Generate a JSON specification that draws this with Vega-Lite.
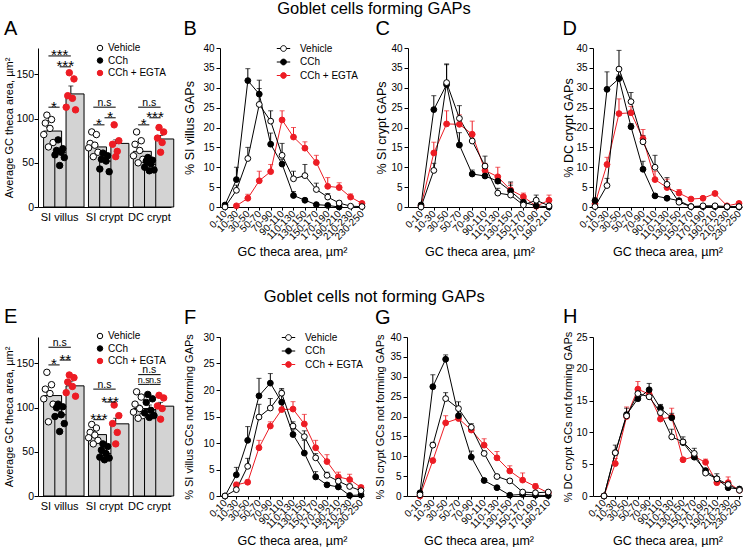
{
"$schema": "https://vega.github.io/schema/vega-lite/v6.json",
"padding": {"left": 3, "top": 0, "right": 0, "bottom": 0},
"background": "white",
"spacing": 30,
"resolve": {"scale": {"fill": "independent", "stroke": "independent", "color": "independent"}, "legend": {"fill": "independent", "stroke": "independent", "color": "independent"}},
"config": {
  "font": "Liberation Sans",
  "view": {"stroke": null},
  "axis": {"grid": false, "domainColor": "#000", "domainWidth": 1, "tickColor": "#000", "tickWidth": 1, "tickSize": 4, "labelColor": "#000", "titleColor": "#000", "labelFont": "Liberation Sans", "titleFont": "Liberation Sans", "labelFontSize": 10, "titleFontSize": 12.5, "titleFontWeight": "normal", "labelPadding": 2},
  "title": {"font": "Liberation Sans", "fontSize": 20, "fontWeight": "normal", "anchor": "start", "frame": "bounds", "color": "#000", "offset": 4},
  "legend": {"labelFont": "Liberation Sans", "labelFontSize": 10, "labelColor": "#000", "padding": 0, "rowPadding": 2.5, "symbolStrokeWidth": 1}
},
"datasets": {
  "A_bars": [
    {"cond": "SI villus|Vehicle", "mean": 86, "hi": 90},
    {"cond": "SI villus|CCh", "mean": 62, "hi": 65},
    {"cond": "SI villus|CCh + EGTA", "mean": 128, "hi": 137},
    {"cond": "SI crypt|Vehicle", "mean": 68, "hi": 72},
    {"cond": "SI crypt|CCh", "mean": 52, "hi": 56},
    {"cond": "SI crypt|CCh + EGTA", "mean": 72, "hi": 76},
    {"cond": "DC crypt|Vehicle", "mean": 63, "hi": 67},
    {"cond": "DC crypt|CCh", "mean": 48, "hi": 51},
    {"cond": "DC crypt|CCh + EGTA", "mean": 77, "hi": 81}
  ],
  "A_dots": [
    {"cond": "SI villus|Vehicle", "trt": "Vehicle", "mouse": 3, "area": 104},
    {"cond": "SI villus|Vehicle", "trt": "Vehicle", "mouse": 6, "area": 99},
    {"cond": "SI villus|Vehicle", "trt": "Vehicle", "mouse": 2, "area": 95},
    {"cond": "SI villus|Vehicle", "trt": "Vehicle", "mouse": 5, "area": 89},
    {"cond": "SI villus|Vehicle", "trt": "Vehicle", "mouse": 1, "area": 82},
    {"cond": "SI villus|Vehicle", "trt": "Vehicle", "mouse": 7, "area": 73},
    {"cond": "SI villus|Vehicle", "trt": "Vehicle", "mouse": 4, "area": 68},
    {"cond": "SI villus|CCh", "trt": "CCh", "mouse": 3, "area": 76},
    {"cond": "SI villus|CCh", "trt": "CCh", "mouse": 6, "area": 66},
    {"cond": "SI villus|CCh", "trt": "CCh", "mouse": 2, "area": 64},
    {"cond": "SI villus|CCh", "trt": "CCh", "mouse": 5, "area": 62},
    {"cond": "SI villus|CCh", "trt": "CCh", "mouse": 1, "area": 59},
    {"cond": "SI villus|CCh", "trt": "CCh", "mouse": 7, "area": 56},
    {"cond": "SI villus|CCh", "trt": "CCh", "mouse": 4, "area": 47},
    {"cond": "SI villus|CCh + EGTA", "trt": "CCh + EGTA", "mouse": 3, "area": 152},
    {"cond": "SI villus|CCh + EGTA", "trt": "CCh + EGTA", "mouse": 6, "area": 145},
    {"cond": "SI villus|CCh + EGTA", "trt": "CCh + EGTA", "mouse": 2, "area": 126},
    {"cond": "SI villus|CCh + EGTA", "trt": "CCh + EGTA", "mouse": 5, "area": 123},
    {"cond": "SI villus|CCh + EGTA", "trt": "CCh + EGTA", "mouse": 1, "area": 113},
    {"cond": "SI villus|CCh + EGTA", "trt": "CCh + EGTA", "mouse": 7, "area": 110},
    {"cond": "SI crypt|Vehicle", "trt": "Vehicle", "mouse": 3, "area": 85},
    {"cond": "SI crypt|Vehicle", "trt": "Vehicle", "mouse": 6, "area": 82},
    {"cond": "SI crypt|Vehicle", "trt": "Vehicle", "mouse": 2, "area": 72},
    {"cond": "SI crypt|Vehicle", "trt": "Vehicle", "mouse": 5, "area": 70},
    {"cond": "SI crypt|Vehicle", "trt": "Vehicle", "mouse": 1, "area": 67},
    {"cond": "SI crypt|Vehicle", "trt": "Vehicle", "mouse": 7, "area": 62},
    {"cond": "SI crypt|Vehicle", "trt": "Vehicle", "mouse": 4, "area": 57},
    {"cond": "SI crypt|CCh", "trt": "CCh", "mouse": 3, "area": 61},
    {"cond": "SI crypt|CCh", "trt": "CCh", "mouse": 6, "area": 58},
    {"cond": "SI crypt|CCh", "trt": "CCh", "mouse": 2, "area": 54},
    {"cond": "SI crypt|CCh", "trt": "CCh", "mouse": 5, "area": 52},
    {"cond": "SI crypt|CCh", "trt": "CCh", "mouse": 1, "area": 43},
    {"cond": "SI crypt|CCh", "trt": "CCh", "mouse": 7, "area": 40},
    {"cond": "SI crypt|CCh + EGTA", "trt": "CCh + EGTA", "mouse": 3, "area": 93},
    {"cond": "SI crypt|CCh + EGTA", "trt": "CCh + EGTA", "mouse": 6, "area": 75},
    {"cond": "SI crypt|CCh + EGTA", "trt": "CCh + EGTA", "mouse": 2, "area": 71},
    {"cond": "SI crypt|CCh + EGTA", "trt": "CCh + EGTA", "mouse": 5, "area": 63},
    {"cond": "SI crypt|CCh + EGTA", "trt": "CCh + EGTA", "mouse": 4, "area": 57},
    {"cond": "DC crypt|Vehicle", "trt": "Vehicle", "mouse": 3, "area": 85},
    {"cond": "DC crypt|Vehicle", "trt": "Vehicle", "mouse": 6, "area": 75},
    {"cond": "DC crypt|Vehicle", "trt": "Vehicle", "mouse": 2, "area": 71},
    {"cond": "DC crypt|Vehicle", "trt": "Vehicle", "mouse": 5, "area": 64},
    {"cond": "DC crypt|Vehicle", "trt": "Vehicle", "mouse": 1, "area": 58},
    {"cond": "DC crypt|Vehicle", "trt": "Vehicle", "mouse": 7, "area": 54},
    {"cond": "DC crypt|Vehicle", "trt": "Vehicle", "mouse": 4, "area": 50},
    {"cond": "DC crypt|CCh", "trt": "CCh", "mouse": 3, "area": 56},
    {"cond": "DC crypt|CCh", "trt": "CCh", "mouse": 6, "area": 53},
    {"cond": "DC crypt|CCh", "trt": "CCh", "mouse": 2, "area": 52},
    {"cond": "DC crypt|CCh", "trt": "CCh", "mouse": 5, "area": 49},
    {"cond": "DC crypt|CCh", "trt": "CCh", "mouse": 1, "area": 45},
    {"cond": "DC crypt|CCh", "trt": "CCh", "mouse": 7, "area": 42},
    {"cond": "DC crypt|CCh", "trt": "CCh", "mouse": 4, "area": 41},
    {"cond": "DC crypt|CCh + EGTA", "trt": "CCh + EGTA", "mouse": 3, "area": 90},
    {"cond": "DC crypt|CCh + EGTA", "trt": "CCh + EGTA", "mouse": 6, "area": 85},
    {"cond": "DC crypt|CCh + EGTA", "trt": "CCh + EGTA", "mouse": 2, "area": 78},
    {"cond": "DC crypt|CCh + EGTA", "trt": "CCh + EGTA", "mouse": 5, "area": 73},
    {"cond": "DC crypt|CCh + EGTA", "trt": "CCh + EGTA", "mouse": 4, "area": 62}
  ],
  "A_sig": [
    {"from": "SI villus|Vehicle", "to": "SI villus|CCh + EGTA", "level": 171, "label": "***"},
    {"from": "SI villus|CCh", "to": "SI villus|CCh + EGTA", "level": 158.7, "label": "***"},
    {"from": "SI villus|Vehicle", "to": "SI villus|CCh", "level": 113, "label": "*"},
    {"from": "SI crypt|Vehicle", "to": "SI crypt|CCh + EGTA", "level": 113, "label": "n.s"},
    {"from": "SI crypt|CCh", "to": "SI crypt|CCh + EGTA", "level": 101, "label": "*"},
    {"from": "SI crypt|Vehicle", "to": "SI crypt|CCh", "level": 93, "label": "*"},
    {"from": "DC crypt|Vehicle", "to": "DC crypt|CCh + EGTA", "level": 113, "label": "n.s"},
    {"from": "DC crypt|CCh", "to": "DC crypt|CCh + EGTA", "level": 101, "label": "***"},
    {"from": "DC crypt|Vehicle", "to": "DC crypt|CCh", "level": 93, "label": "*"}
  ],
  "E_bars": [
    {"cond": "SI villus|Vehicle", "mean": 113.7, "hi": 117.5},
    {"cond": "SI villus|CCh", "mean": 92, "hi": 96},
    {"cond": "SI villus|CCh + EGTA", "mean": 124.7, "hi": 130},
    {"cond": "SI crypt|Vehicle", "mean": 69.5, "hi": 73.5},
    {"cond": "SI crypt|CCh", "mean": 48, "hi": 51.5},
    {"cond": "SI crypt|CCh + EGTA", "mean": 81.7, "hi": 88},
    {"cond": "DC crypt|Vehicle", "mean": 99, "hi": 103},
    {"cond": "DC crypt|CCh", "mean": 98, "hi": 103},
    {"cond": "DC crypt|CCh + EGTA", "mean": 101.7, "hi": 106}
  ],
  "E_dots": [
    {"cond": "SI villus|Vehicle", "trt": "Vehicle", "mouse": 3, "area": 140},
    {"cond": "SI villus|Vehicle", "trt": "Vehicle", "mouse": 6, "area": 126},
    {"cond": "SI villus|Vehicle", "trt": "Vehicle", "mouse": 2, "area": 121},
    {"cond": "SI villus|Vehicle", "trt": "Vehicle", "mouse": 5, "area": 116},
    {"cond": "SI villus|Vehicle", "trt": "Vehicle", "mouse": 1, "area": 110},
    {"cond": "SI villus|Vehicle", "trt": "Vehicle", "mouse": 7, "area": 104},
    {"cond": "SI villus|Vehicle", "trt": "Vehicle", "mouse": 4, "area": 84},
    {"cond": "SI villus|CCh", "trt": "CCh", "mouse": 3, "area": 104},
    {"cond": "SI villus|CCh", "trt": "CCh", "mouse": 6, "area": 101},
    {"cond": "SI villus|CCh", "trt": "CCh", "mouse": 2, "area": 100},
    {"cond": "SI villus|CCh", "trt": "CCh", "mouse": 5, "area": 92},
    {"cond": "SI villus|CCh", "trt": "CCh", "mouse": 1, "area": 90},
    {"cond": "SI villus|CCh", "trt": "CCh", "mouse": 7, "area": 82},
    {"cond": "SI villus|CCh", "trt": "CCh", "mouse": 4, "area": 73},
    {"cond": "SI villus|CCh + EGTA", "trt": "CCh + EGTA", "mouse": 3, "area": 137},
    {"cond": "SI villus|CCh + EGTA", "trt": "CCh + EGTA", "mouse": 6, "area": 134},
    {"cond": "SI villus|CCh + EGTA", "trt": "CCh + EGTA", "mouse": 2, "area": 129},
    {"cond": "SI villus|CCh + EGTA", "trt": "CCh + EGTA", "mouse": 5, "area": 124},
    {"cond": "SI villus|CCh + EGTA", "trt": "CCh + EGTA", "mouse": 1, "area": 117},
    {"cond": "SI villus|CCh + EGTA", "trt": "CCh + EGTA", "mouse": 7, "area": 113},
    {"cond": "SI crypt|Vehicle", "trt": "Vehicle", "mouse": 3, "area": 81},
    {"cond": "SI crypt|Vehicle", "trt": "Vehicle", "mouse": 6, "area": 77},
    {"cond": "SI crypt|Vehicle", "trt": "Vehicle", "mouse": 2, "area": 72},
    {"cond": "SI crypt|Vehicle", "trt": "Vehicle", "mouse": 5, "area": 69},
    {"cond": "SI crypt|Vehicle", "trt": "Vehicle", "mouse": 1, "area": 66},
    {"cond": "SI crypt|Vehicle", "trt": "Vehicle", "mouse": 7, "area": 63},
    {"cond": "SI crypt|Vehicle", "trt": "Vehicle", "mouse": 4, "area": 59},
    {"cond": "SI crypt|CCh", "trt": "CCh", "mouse": 3, "area": 59},
    {"cond": "SI crypt|CCh", "trt": "CCh", "mouse": 6, "area": 56},
    {"cond": "SI crypt|CCh", "trt": "CCh", "mouse": 2, "area": 52},
    {"cond": "SI crypt|CCh", "trt": "CCh", "mouse": 5, "area": 48},
    {"cond": "SI crypt|CCh", "trt": "CCh", "mouse": 1, "area": 44},
    {"cond": "SI crypt|CCh", "trt": "CCh", "mouse": 7, "area": 43},
    {"cond": "SI crypt|CCh", "trt": "CCh", "mouse": 4, "area": 41},
    {"cond": "SI crypt|CCh + EGTA", "trt": "CCh + EGTA", "mouse": 3, "area": 103},
    {"cond": "SI crypt|CCh + EGTA", "trt": "CCh + EGTA", "mouse": 6, "area": 91},
    {"cond": "SI crypt|CCh + EGTA", "trt": "CCh + EGTA", "mouse": 2, "area": 82},
    {"cond": "SI crypt|CCh + EGTA", "trt": "CCh + EGTA", "mouse": 5, "area": 72},
    {"cond": "SI crypt|CCh + EGTA", "trt": "CCh + EGTA", "mouse": 4, "area": 59},
    {"cond": "DC crypt|Vehicle", "trt": "Vehicle", "mouse": 3, "area": 118},
    {"cond": "DC crypt|Vehicle", "trt": "Vehicle", "mouse": 6, "area": 112},
    {"cond": "DC crypt|Vehicle", "trt": "Vehicle", "mouse": 2, "area": 104},
    {"cond": "DC crypt|Vehicle", "trt": "Vehicle", "mouse": 5, "area": 99},
    {"cond": "DC crypt|Vehicle", "trt": "Vehicle", "mouse": 1, "area": 95},
    {"cond": "DC crypt|Vehicle", "trt": "Vehicle", "mouse": 7, "area": 91},
    {"cond": "DC crypt|Vehicle", "trt": "Vehicle", "mouse": 4, "area": 88},
    {"cond": "DC crypt|CCh", "trt": "CCh", "mouse": 3, "area": 115},
    {"cond": "DC crypt|CCh", "trt": "CCh", "mouse": 6, "area": 110},
    {"cond": "DC crypt|CCh", "trt": "CCh", "mouse": 2, "area": 106},
    {"cond": "DC crypt|CCh", "trt": "CCh", "mouse": 5, "area": 97},
    {"cond": "DC crypt|CCh", "trt": "CCh", "mouse": 1, "area": 94},
    {"cond": "DC crypt|CCh", "trt": "CCh", "mouse": 7, "area": 91},
    {"cond": "DC crypt|CCh", "trt": "CCh", "mouse": 4, "area": 89},
    {"cond": "DC crypt|CCh + EGTA", "trt": "CCh + EGTA", "mouse": 3, "area": 114},
    {"cond": "DC crypt|CCh + EGTA", "trt": "CCh + EGTA", "mouse": 6, "area": 111},
    {"cond": "DC crypt|CCh + EGTA", "trt": "CCh + EGTA", "mouse": 2, "area": 102},
    {"cond": "DC crypt|CCh + EGTA", "trt": "CCh + EGTA", "mouse": 5, "area": 99},
    {"cond": "DC crypt|CCh + EGTA", "trt": "CCh + EGTA", "mouse": 4, "area": 87}
  ],
  "E_sig": [
    {"from": "SI villus|Vehicle", "to": "SI villus|CCh + EGTA", "level": 168.4, "label": "n.s"},
    {"from": "SI villus|CCh", "to": "SI villus|CCh + EGTA", "level": 153.9, "label": "**"},
    {"from": "SI villus|Vehicle", "to": "SI villus|CCh", "level": 148.4, "label": "*"},
    {"from": "SI crypt|Vehicle", "to": "SI crypt|CCh + EGTA", "level": 121, "label": "n.s"},
    {"from": "SI crypt|CCh", "to": "SI crypt|CCh + EGTA", "level": 106.4, "label": "***"},
    {"from": "SI crypt|Vehicle", "to": "SI crypt|CCh", "level": 86.4, "label": "***"},
    {"from": "DC crypt|Vehicle", "to": "DC crypt|CCh + EGTA", "level": 137.4, "label": "n.s"},
    {"from": "DC crypt|Vehicle", "to": "DC crypt|CCh", "level": 126.4, "label": "n.s"},
    {"from": "DC crypt|CCh", "to": "DC crypt|CCh + EGTA", "level": 126.4, "label": "n.s"}
  ],
  "B": [
    {"bin": "10-30", "group": "CCh + EGTA", "pct": 0.3, "upper": 0.5},
    {"bin": "30-50", "group": "CCh + EGTA", "pct": 2.2, "upper": 3.2},
    {"bin": "50-70", "group": "CCh + EGTA", "pct": 6.6, "upper": 9.0},
    {"bin": "70-90", "group": "CCh + EGTA", "pct": 8.9, "upper": 10.7},
    {"bin": "90-110", "group": "CCh + EGTA", "pct": 21.9, "upper": 24.2},
    {"bin": "110-130", "group": "CCh + EGTA", "pct": 17.6, "upper": 20.0},
    {"bin": "130-150", "group": "CCh + EGTA", "pct": 14.8, "upper": 16.4},
    {"bin": "150-170", "group": "CCh + EGTA", "pct": 11.2, "upper": 13.0},
    {"bin": "170-190", "group": "CCh + EGTA", "pct": 5.2, "upper": 7.4},
    {"bin": "190-210", "group": "CCh + EGTA", "pct": 4.9, "upper": 6.1},
    {"bin": "210-230", "group": "CCh + EGTA", "pct": 2.5, "upper": 3.3},
    {"bin": "230-250", "group": "CCh + EGTA", "pct": 0.9, "upper": 1.2},
    {"bin": "0-10", "group": "CCh", "pct": 0.5, "upper": 0.8},
    {"bin": "10-30", "group": "CCh", "pct": 6.9, "upper": 10.0},
    {"bin": "30-50", "group": "CCh", "pct": 31.8, "upper": 34.8},
    {"bin": "50-70", "group": "CCh", "pct": 28.4, "upper": 31.9},
    {"bin": "70-90", "group": "CCh", "pct": 15.8, "upper": 18.6},
    {"bin": "90-110", "group": "CCh", "pct": 10.8, "upper": 12.0},
    {"bin": "110-130", "group": "CCh", "pct": 2.9, "upper": 3.9},
    {"bin": "130-150", "group": "CCh", "pct": 1.7, "upper": 2.2},
    {"bin": "150-170", "group": "CCh", "pct": 0.6, "upper": 0.8},
    {"bin": "170-190", "group": "CCh", "pct": 0.4, "upper": 0.5},
    {"bin": "190-210", "group": "CCh", "pct": 0.0, "upper": 0.1},
    {"bin": "0-10", "group": "Vehicle", "pct": 0.0, "upper": 0.3},
    {"bin": "10-30", "group": "Vehicle", "pct": 4.2, "upper": 5.5},
    {"bin": "30-50", "group": "Vehicle", "pct": 12.2, "upper": 15.0},
    {"bin": "50-70", "group": "Vehicle", "pct": 25.8, "upper": 29.8},
    {"bin": "70-90", "group": "Vehicle", "pct": 21.6, "upper": 24.2},
    {"bin": "90-110", "group": "Vehicle", "pct": 13.0, "upper": 16.0},
    {"bin": "110-130", "group": "Vehicle", "pct": 7.1, "upper": 9.0},
    {"bin": "130-150", "group": "Vehicle", "pct": 7.9, "upper": 10.7},
    {"bin": "150-170", "group": "Vehicle", "pct": 4.4, "upper": 6.0},
    {"bin": "170-190", "group": "Vehicle", "pct": 2.5, "upper": 3.4},
    {"bin": "190-210", "group": "Vehicle", "pct": 1.0, "upper": 1.5},
    {"bin": "210-230", "group": "Vehicle", "pct": 0.2, "upper": 0.4},
    {"bin": "230-250", "group": "Vehicle", "pct": 0.1, "upper": 0.2}
  ],
  "C": [
    {"bin": "0-10", "group": "CCh + EGTA", "pct": 0.3, "upper": 0.5},
    {"bin": "10-30", "group": "CCh + EGTA", "pct": 13.6, "upper": 16.3},
    {"bin": "30-50", "group": "CCh + EGTA", "pct": 20.9, "upper": 24.2},
    {"bin": "50-70", "group": "CCh + EGTA", "pct": 20.8, "upper": 23.2},
    {"bin": "70-90", "group": "CCh + EGTA", "pct": 18.3, "upper": 21.6},
    {"bin": "90-110", "group": "CCh + EGTA", "pct": 9.2, "upper": 11.0},
    {"bin": "110-130", "group": "CCh + EGTA", "pct": 7.6, "upper": 10.0},
    {"bin": "130-150", "group": "CCh + EGTA", "pct": 4.3, "upper": 6.0},
    {"bin": "150-170", "group": "CCh + EGTA", "pct": 2.6, "upper": 3.5},
    {"bin": "170-190", "group": "CCh + EGTA", "pct": 0.2, "upper": 0.5},
    {"bin": "190-210", "group": "CCh + EGTA", "pct": 1.7, "upper": 3.0},
    {"bin": "0-10", "group": "CCh", "pct": 0.5, "upper": 0.8},
    {"bin": "10-30", "group": "CCh", "pct": 24.5, "upper": 28.0},
    {"bin": "30-50", "group": "CCh", "pct": 30.8, "upper": 35.8},
    {"bin": "50-70", "group": "CCh", "pct": 15.6, "upper": 18.7},
    {"bin": "70-90", "group": "CCh", "pct": 8.3, "upper": 9.3},
    {"bin": "90-110", "group": "CCh", "pct": 7.8, "upper": 8.3},
    {"bin": "110-130", "group": "CCh", "pct": 6.5, "upper": 7.5},
    {"bin": "130-150", "group": "CCh", "pct": 4.0, "upper": 5.5},
    {"bin": "150-170", "group": "CCh", "pct": 1.2, "upper": 1.8},
    {"bin": "170-190", "group": "CCh", "pct": 0.3, "upper": 0.5},
    {"bin": "190-210", "group": "CCh", "pct": 0.0, "upper": 0.2},
    {"bin": "0-10", "group": "Vehicle", "pct": 0.0, "upper": 0.2},
    {"bin": "10-30", "group": "Vehicle", "pct": 9.2, "upper": 11.0},
    {"bin": "30-50", "group": "Vehicle", "pct": 31.3, "upper": 36.0},
    {"bin": "50-70", "group": "Vehicle", "pct": 22.3, "upper": 25.5},
    {"bin": "70-90", "group": "Vehicle", "pct": 16.6, "upper": 18.0},
    {"bin": "90-110", "group": "Vehicle", "pct": 10.3, "upper": 12.8},
    {"bin": "110-130", "group": "Vehicle", "pct": 3.5, "upper": 4.7},
    {"bin": "130-150", "group": "Vehicle", "pct": 3.0, "upper": 6.3},
    {"bin": "150-170", "group": "Vehicle", "pct": 0.5, "upper": 0.9},
    {"bin": "170-190", "group": "Vehicle", "pct": 1.7, "upper": 3.0},
    {"bin": "190-210", "group": "Vehicle", "pct": 0.3, "upper": 0.5}
  ],
  "D": [
    {"bin": "0-10", "group": "CCh + EGTA", "pct": 0.8, "upper": 1.2},
    {"bin": "10-30", "group": "CCh + EGTA", "pct": 10.7, "upper": 12.5},
    {"bin": "30-50", "group": "CCh + EGTA", "pct": 23.5, "upper": 27.2},
    {"bin": "50-70", "group": "CCh + EGTA", "pct": 23.7, "upper": 25.3},
    {"bin": "70-90", "group": "CCh + EGTA", "pct": 17.2, "upper": 19.5},
    {"bin": "90-110", "group": "CCh + EGTA", "pct": 6.9, "upper": 9.0},
    {"bin": "110-130", "group": "CCh + EGTA", "pct": 4.9, "upper": 7.0},
    {"bin": "130-150", "group": "CCh + EGTA", "pct": 3.5, "upper": 4.4},
    {"bin": "150-170", "group": "CCh + EGTA", "pct": 2.0, "upper": 2.4},
    {"bin": "170-190", "group": "CCh + EGTA", "pct": 2.2, "upper": 2.6},
    {"bin": "190-210", "group": "CCh + EGTA", "pct": 3.4, "upper": 3.8},
    {"bin": "210-230", "group": "CCh + EGTA", "pct": 0.3, "upper": 0.5},
    {"bin": "230-250", "group": "CCh + EGTA", "pct": 0.9, "upper": 1.2},
    {"bin": "0-10", "group": "CCh", "pct": 1.6, "upper": 2.3},
    {"bin": "10-30", "group": "CCh", "pct": 29.6, "upper": 34.0},
    {"bin": "30-50", "group": "CCh", "pct": 32.3, "upper": 33.2},
    {"bin": "50-70", "group": "CCh", "pct": 20.2, "upper": 21.0},
    {"bin": "70-90", "group": "CCh", "pct": 9.5, "upper": 11.5},
    {"bin": "90-110", "group": "CCh", "pct": 2.8, "upper": 3.3},
    {"bin": "110-130", "group": "CCh", "pct": 2.2, "upper": 2.6},
    {"bin": "130-150", "group": "CCh", "pct": 1.6, "upper": 2.0},
    {"bin": "150-170", "group": "CCh", "pct": 0.1, "upper": 0.2},
    {"bin": "170-190", "group": "CCh", "pct": 0.1, "upper": 0.2},
    {"bin": "190-210", "group": "CCh", "pct": 0.1, "upper": 0.2},
    {"bin": "210-230", "group": "CCh", "pct": 0.0, "upper": 0.1},
    {"bin": "230-250", "group": "CCh", "pct": 0.0, "upper": 0.1},
    {"bin": "0-10", "group": "Vehicle", "pct": 0.1, "upper": 0.3},
    {"bin": "10-30", "group": "Vehicle", "pct": 5.4, "upper": 7.2},
    {"bin": "30-50", "group": "Vehicle", "pct": 34.7, "upper": 39.4},
    {"bin": "50-70", "group": "Vehicle", "pct": 26.5, "upper": 28.8},
    {"bin": "70-90", "group": "Vehicle", "pct": 16.4, "upper": 18.0},
    {"bin": "90-110", "group": "Vehicle", "pct": 10.0, "upper": 13.0},
    {"bin": "110-130", "group": "Vehicle", "pct": 5.7, "upper": 7.4},
    {"bin": "130-150", "group": "Vehicle", "pct": 1.2, "upper": 1.6},
    {"bin": "150-170", "group": "Vehicle", "pct": 0.1, "upper": 0.2},
    {"bin": "170-190", "group": "Vehicle", "pct": 0.3, "upper": 0.4},
    {"bin": "190-210", "group": "Vehicle", "pct": 0.3, "upper": 0.4},
    {"bin": "210-230", "group": "Vehicle", "pct": 0.1, "upper": 0.2},
    {"bin": "230-250", "group": "Vehicle", "pct": 0.1, "upper": 0.2}
  ],
  "F": [
    {"bin": "10-30", "group": "CCh + EGTA", "pct": 2.1, "upper": 2.6},
    {"bin": "30-50", "group": "CCh + EGTA", "pct": 2.6, "upper": 3.0},
    {"bin": "50-70", "group": "CCh + EGTA", "pct": 9.1, "upper": 10.5},
    {"bin": "70-90", "group": "CCh + EGTA", "pct": 13.2, "upper": 14.0},
    {"bin": "90-110", "group": "CCh + EGTA", "pct": 16.3, "upper": 17.8},
    {"bin": "110-130", "group": "CCh + EGTA", "pct": 16.4, "upper": 17.8},
    {"bin": "130-150", "group": "CCh + EGTA", "pct": 13.6, "upper": 15.4},
    {"bin": "150-170", "group": "CCh + EGTA", "pct": 9.1, "upper": 10.5},
    {"bin": "170-190", "group": "CCh + EGTA", "pct": 6.5, "upper": 7.8},
    {"bin": "190-210", "group": "CCh + EGTA", "pct": 3.6, "upper": 4.5},
    {"bin": "210-230", "group": "CCh + EGTA", "pct": 3.1, "upper": 4.1},
    {"bin": "230-250", "group": "CCh + EGTA", "pct": 1.6, "upper": 2.0},
    {"bin": "0-10", "group": "CCh", "pct": 0.0, "upper": 0.1},
    {"bin": "10-30", "group": "CCh", "pct": 4.0, "upper": 5.4},
    {"bin": "30-50", "group": "CCh", "pct": 10.5, "upper": 13.1},
    {"bin": "50-70", "group": "CCh", "pct": 18.9, "upper": 22.2},
    {"bin": "70-90", "group": "CCh", "pct": 21.3, "upper": 23.1},
    {"bin": "90-110", "group": "CCh", "pct": 17.7, "upper": 20.0},
    {"bin": "110-130", "group": "CCh", "pct": 11.6, "upper": 12.5},
    {"bin": "130-150", "group": "CCh", "pct": 8.1, "upper": 10.5},
    {"bin": "150-170", "group": "CCh", "pct": 3.6, "upper": 4.6},
    {"bin": "170-190", "group": "CCh", "pct": 2.1, "upper": 2.5},
    {"bin": "190-210", "group": "CCh", "pct": 1.7, "upper": 2.0},
    {"bin": "210-230", "group": "CCh", "pct": 0.1, "upper": 0.2},
    {"bin": "230-250", "group": "CCh", "pct": 0.2, "upper": 0.3},
    {"bin": "0-10", "group": "Vehicle", "pct": 0.0, "upper": 0.1},
    {"bin": "10-30", "group": "Vehicle", "pct": 1.2, "upper": 1.6},
    {"bin": "30-50", "group": "Vehicle", "pct": 5.6, "upper": 7.1},
    {"bin": "50-70", "group": "Vehicle", "pct": 14.9, "upper": 17.3},
    {"bin": "70-90", "group": "Vehicle", "pct": 16.6, "upper": 18.4},
    {"bin": "90-110", "group": "Vehicle", "pct": 19.4, "upper": 20.3},
    {"bin": "110-130", "group": "Vehicle", "pct": 13.2, "upper": 14.0},
    {"bin": "130-150", "group": "Vehicle", "pct": 11.2, "upper": 12.3},
    {"bin": "150-170", "group": "Vehicle", "pct": 7.2, "upper": 8.0},
    {"bin": "170-190", "group": "Vehicle", "pct": 3.9, "upper": 4.5},
    {"bin": "190-210", "group": "Vehicle", "pct": 2.8, "upper": 3.4},
    {"bin": "210-230", "group": "Vehicle", "pct": 1.8, "upper": 2.2},
    {"bin": "230-250", "group": "Vehicle", "pct": 1.0, "upper": 1.3}
  ],
  "G": [
    {"bin": "0-10", "group": "CCh + EGTA", "pct": 0.0, "upper": 0.1},
    {"bin": "10-30", "group": "CCh + EGTA", "pct": 8.9, "upper": 9.5},
    {"bin": "30-50", "group": "CCh + EGTA", "pct": 18.4, "upper": 20.2},
    {"bin": "50-70", "group": "CCh + EGTA", "pct": 19.5, "upper": 20.0},
    {"bin": "70-90", "group": "CCh + EGTA", "pct": 16.6, "upper": 17.6},
    {"bin": "90-110", "group": "CCh + EGTA", "pct": 12.8, "upper": 14.4},
    {"bin": "110-130", "group": "CCh + EGTA", "pct": 9.6, "upper": 11.2},
    {"bin": "130-150", "group": "CCh + EGTA", "pct": 6.3, "upper": 7.6},
    {"bin": "150-170", "group": "CCh + EGTA", "pct": 4.0, "upper": 5.8},
    {"bin": "170-190", "group": "CCh + EGTA", "pct": 2.4, "upper": 3.1},
    {"bin": "190-210", "group": "CCh + EGTA", "pct": 0.8, "upper": 1.3},
    {"bin": "0-10", "group": "CCh", "pct": 0.8, "upper": 1.0},
    {"bin": "10-30", "group": "CCh", "pct": 27.5, "upper": 30.5},
    {"bin": "30-50", "group": "CCh", "pct": 34.4, "upper": 35.5},
    {"bin": "50-70", "group": "CCh", "pct": 20.2, "upper": 22.0},
    {"bin": "70-90", "group": "CCh", "pct": 9.8, "upper": 11.3},
    {"bin": "90-110", "group": "CCh", "pct": 3.9, "upper": 4.4},
    {"bin": "110-130", "group": "CCh", "pct": 2.1, "upper": 2.4},
    {"bin": "130-150", "group": "CCh", "pct": 0.2, "upper": 0.3},
    {"bin": "150-170", "group": "CCh", "pct": 0.4, "upper": 0.5},
    {"bin": "170-190", "group": "CCh", "pct": 0.2, "upper": 0.3},
    {"bin": "190-210", "group": "CCh", "pct": 0.1, "upper": 0.2},
    {"bin": "0-10", "group": "Vehicle", "pct": 0.3, "upper": 0.5},
    {"bin": "10-30", "group": "Vehicle", "pct": 12.8, "upper": 13.5},
    {"bin": "30-50", "group": "Vehicle", "pct": 24.5, "upper": 26.0},
    {"bin": "50-70", "group": "Vehicle", "pct": 22.0, "upper": 23.7},
    {"bin": "70-90", "group": "Vehicle", "pct": 17.3, "upper": 18.2},
    {"bin": "90-110", "group": "Vehicle", "pct": 10.7, "upper": 11.3},
    {"bin": "110-130", "group": "Vehicle", "pct": 4.9, "upper": 5.3},
    {"bin": "130-150", "group": "Vehicle", "pct": 3.8, "upper": 4.2},
    {"bin": "150-170", "group": "Vehicle", "pct": 1.0, "upper": 1.3},
    {"bin": "170-190", "group": "Vehicle", "pct": 0.8, "upper": 1.0},
    {"bin": "190-210", "group": "Vehicle", "pct": 1.0, "upper": 1.2}
  ],
  "H": [
    {"bin": "0-10", "group": "CCh + EGTA", "pct": 0.0, "upper": 0.1},
    {"bin": "10-30", "group": "CCh + EGTA", "pct": 5.1, "upper": 5.9},
    {"bin": "30-50", "group": "CCh + EGTA", "pct": 12.5, "upper": 14.0},
    {"bin": "50-70", "group": "CCh + EGTA", "pct": 16.8, "upper": 18.0},
    {"bin": "70-90", "group": "CCh + EGTA", "pct": 16.0, "upper": 16.5},
    {"bin": "90-110", "group": "CCh + EGTA", "pct": 12.1, "upper": 12.6},
    {"bin": "110-130", "group": "CCh + EGTA", "pct": 12.4, "upper": 13.8},
    {"bin": "130-150", "group": "CCh + EGTA", "pct": 5.7, "upper": 6.0},
    {"bin": "150-170", "group": "CCh + EGTA", "pct": 6.2, "upper": 6.6},
    {"bin": "170-190", "group": "CCh + EGTA", "pct": 5.3, "upper": 5.8},
    {"bin": "190-210", "group": "CCh + EGTA", "pct": 2.1, "upper": 2.4},
    {"bin": "210-230", "group": "CCh + EGTA", "pct": 2.1, "upper": 3.0},
    {"bin": "230-250", "group": "CCh + EGTA", "pct": 0.9, "upper": 1.1},
    {"bin": "0-10", "group": "CCh", "pct": 0.0, "upper": 0.1},
    {"bin": "10-30", "group": "CCh", "pct": 6.8, "upper": 7.2},
    {"bin": "30-50", "group": "CCh", "pct": 12.8, "upper": 13.8},
    {"bin": "50-70", "group": "CCh", "pct": 15.3, "upper": 15.8},
    {"bin": "70-90", "group": "CCh", "pct": 16.7, "upper": 17.7},
    {"bin": "90-110", "group": "CCh", "pct": 13.8, "upper": 14.4},
    {"bin": "110-130", "group": "CCh", "pct": 12.3, "upper": 13.0},
    {"bin": "130-150", "group": "CCh", "pct": 8.4, "upper": 8.9},
    {"bin": "150-170", "group": "CCh", "pct": 6.1, "upper": 6.5},
    {"bin": "170-190", "group": "CCh", "pct": 4.0, "upper": 4.3},
    {"bin": "190-210", "group": "CCh", "pct": 2.7, "upper": 3.0},
    {"bin": "210-230", "group": "CCh", "pct": 1.3, "upper": 1.6},
    {"bin": "230-250", "group": "CCh", "pct": 1.1, "upper": 1.3},
    {"bin": "0-10", "group": "Vehicle", "pct": 0.0, "upper": 0.1},
    {"bin": "10-30", "group": "Vehicle", "pct": 6.8, "upper": 8.0},
    {"bin": "30-50", "group": "Vehicle", "pct": 12.6, "upper": 13.0},
    {"bin": "50-70", "group": "Vehicle", "pct": 16.1, "upper": 16.5},
    {"bin": "70-90", "group": "Vehicle", "pct": 15.6, "upper": 16.0},
    {"bin": "90-110", "group": "Vehicle", "pct": 13.1, "upper": 14.3},
    {"bin": "110-130", "group": "Vehicle", "pct": 9.3, "upper": 10.5},
    {"bin": "130-150", "group": "Vehicle", "pct": 8.5, "upper": 9.3},
    {"bin": "150-170", "group": "Vehicle", "pct": 6.7, "upper": 7.5},
    {"bin": "170-190", "group": "Vehicle", "pct": 3.6, "upper": 4.0},
    {"bin": "190-210", "group": "Vehicle", "pct": 2.7, "upper": 3.5},
    {"bin": "210-230", "group": "Vehicle", "pct": 1.8, "upper": 2.2},
    {"bin": "230-250", "group": "Vehicle", "pct": 0.9, "upper": 1.1}
  ]
},
"vconcat": [
  {
    "title": {"text": "Goblet cells forming GAPs", "fontSize": 16.5, "anchor": "middle", "frame": "bounds", "offset": 2},
    "spacing": 8,
    "resolve": {"scale": {"fill": "independent", "stroke": "independent", "color": "independent"}, "legend": {"fill": "independent", "stroke": "independent", "color": "independent"}},
    "hconcat": [
      {
        "width": 133, "height": 159,
        "title": {"text": "A"},
        "layer": [
          {"data": {"name": "A_bars"}, "mark": {"type": "bar", "fill": "#d3d3d3", "stroke": "#000", "strokeWidth": 1},
           "encoding": {
             "x": {"field": "cond", "type": "nominal", "scale": {"domain": ["SI villus|Vehicle", "SI villus|CCh", "SI villus|CCh + EGTA", "gap1", "SI crypt|Vehicle", "SI crypt|CCh", "SI crypt|CCh + EGTA", "gap2", "DC crypt|Vehicle", "DC crypt|CCh", "DC crypt|CCh + EGTA"], "paddingInner": 0.14, "paddingOuter": 0.5},
                   "axis": {"labelExpr": "datum.value == 'SI villus|CCh' ? 'SI villus' : datum.value == 'SI crypt|CCh' ? 'SI crypt' : datum.value == 'DC crypt|CCh' ? 'DC crypt' : ''", "ticks": false, "labelFontSize": 11, "labelAngle": 0, "labelPadding": 4, "labelOverlap": false, "labelBound": false, "title": null}},
             "y": {"field": "mean", "type": "quantitative", "scale": {"domain": [0, 175]}, "axis": {"values": [0, 25, 50, 75, 100, 125, 150, 175], "title": "Average GC theca area, µm²", "titleFontSize": 11, "titlePadding": 1, "labelPadding": 0.5, "labelFontSize": 10.5}}
           }},
          {"data": {"name": "A_bars"}, "mark": {"type": "rule", "color": "#000", "strokeWidth": 1},
           "encoding": {"x": {"field": "cond", "type": "nominal"}, "y": {"field": "mean", "type": "quantitative"}, "y2": {"field": "hi"}}},
          {"data": {"name": "A_bars"}, "mark": {"type": "tick", "color": "#000", "thickness": 1, "size": 5},
           "encoding": {"x": {"field": "cond", "type": "nominal"}, "y": {"field": "hi", "type": "quantitative"}}},
          {"data": {"name": "A_dots"}, "mark": {"type": "point", "filled": true, "size": 42, "strokeWidth": 1, "opacity": 1},
           "encoding": {
             "x": {"field": "cond", "type": "nominal"},
             "xOffset": {"field": "mouse", "type": "nominal", "scale": {"paddingOuter": 0.1}},
             "y": {"field": "area", "type": "quantitative"},
             "fill": {"field": "trt", "type": "nominal", "scale": {"domain": ["Vehicle", "CCh", "CCh + EGTA"], "range": ["#ffffff", "#000000", "#ed1c24"]}, "legend": {"title": null, "orient": "none", "legendX": 57, "legendY": -5, "symbolType": "circle", "symbolSize": 30, "labelOffset": 3}},
             "stroke": {"field": "trt", "type": "nominal", "scale": {"domain": ["Vehicle", "CCh", "CCh + EGTA"], "range": ["#000000", "#000000", "#ed1c24"]}, "legend": {"title": null, "orient": "none", "legendX": 57, "legendY": -5, "symbolType": "circle", "symbolSize": 30, "labelOffset": 3}}
           }},
          {"data": {"name": "A_sig"}, "mark": {"type": "rule", "color": "#000", "strokeWidth": 1},
           "encoding": {"x": {"field": "from", "type": "nominal"}, "x2": {"field": "to"}, "y": {"field": "level", "type": "quantitative"}}},
          {"data": {"name": "A_sig"}, "transform": [{"filter": "indexof(datum.from,'Vehicle')>=0 && indexof(datum.to,'EGTA')>=0 && datum.label != 'n.s'"}],
           "mark": {"type": "text", "fontSize": 15, "dx": 11.2, "dy": 4.5, "baseline": "alphabetic", "align": "center"},
           "encoding": {"x": {"field": "from", "type": "nominal"}, "y": {"field": "level", "type": "quantitative"}, "text": {"field": "label"}}},
          {"data": {"name": "A_sig"}, "transform": [{"filter": "indexof(datum.from,'Vehicle')>=0 && indexof(datum.to,'EGTA')>=0 && datum.label == 'n.s'"}],
           "mark": {"type": "text", "fontSize": 10.5, "dx": 11.2, "dy": -1.5, "baseline": "alphabetic", "align": "center"},
           "encoding": {"x": {"field": "from", "type": "nominal"}, "y": {"field": "level", "type": "quantitative"}, "text": {"field": "label"}}},
          {"data": {"name": "A_sig"}, "transform": [{"filter": "!(indexof(datum.from,'Vehicle')>=0 && indexof(datum.to,'EGTA')>=0) && datum.label != 'n.s'"}],
           "mark": {"type": "text", "fontSize": 15, "dx": 5.6, "dy": 4.5, "baseline": "alphabetic", "align": "center"},
           "encoding": {"x": {"field": "from", "type": "nominal"}, "y": {"field": "level", "type": "quantitative"}, "text": {"field": "label"}}},
          {"data": {"name": "A_sig"}, "transform": [{"filter": "!(indexof(datum.from,'Vehicle')>=0 && indexof(datum.to,'EGTA')>=0) && datum.label == 'n.s'"}],
           "mark": {"type": "text", "fontSize": 9, "dx": 5.6, "dy": -1.5, "baseline": "alphabetic", "align": "center"},
           "encoding": {"x": {"field": "from", "type": "nominal"}, "y": {"field": "level", "type": "quantitative"}, "text": {"field": "label"}}}
        ]
      },
      {
        "width": 144, "height": 159,
        "title": {"text": "B"},
        "data": {"name": "B"},
        "encoding": {
          "x": {"field": "bin", "type": "ordinal", "sort": ["0-10", "10-30", "30-50", "50-70", "70-90", "90-110", "110-130", "130-150", "150-170", "170-190", "190-210", "210-230", "230-250"], "scale": {"type": "point", "padding": 0.3065, "align": 0.714}, "axis": {"labelAngle": -45, "labelAlign": "right", "labelBaseline": "middle", "tickSize": 3, "labelPadding": 2, "title": "GC theca area, µm²", "titlePadding": 4}},
          "y": {"field": "pct", "type": "quantitative", "scale": {"domain": [0, 40]}, "axis": {"values": [0, 5, 10, 15, 20, 25, 30, 35, 40], "title": "% SI villus GAPs", "titlePadding": 6.4}}
        },
        "layer": [
          {"mark": {"type": "rule", "strokeWidth": 1}, "encoding": {"y2": {"field": "upper"}, "color": {"field": "group", "type": "nominal", "scale": {"domain": ["CCh", "Vehicle", "CCh + EGTA"], "range": ["#000000", "#000000", "#ed1c24"]}, "legend": null}}},
          {"mark": {"type": "tick", "thickness": 1, "size": 5}, "encoding": {"y": {"field": "upper", "type": "quantitative"}, "color": {"field": "group", "type": "nominal", "legend": null}}},
          {"mark": {"type": "line", "strokeWidth": 1}, "encoding": {"color": {"field": "group", "type": "nominal", "legend": null}}},
          {"mark": {"type": "point", "filled": true, "size": 34, "strokeWidth": 1, "opacity": 1}, "encoding": {
            "fill": {"field": "group", "type": "nominal", "scale": {"domain": ["Vehicle", "CCh", "CCh + EGTA"], "range": ["#ffffff", "#000000", "#ed1c24"]}, "legend": {"title": null, "orient": "none", "legendX": 58, "legendY": -5, "symbolType": "M-1.4,0H-0.6M0.6,0H1.4M-0.6,0A0.6,0.6,0,1,1,0.6,0A0.6,0.6,0,1,1,-0.6,0", "symbolSize": 92, "labelOffset": 11}},
            "stroke": {"field": "group", "type": "nominal", "scale": {"domain": ["Vehicle", "CCh", "CCh + EGTA"], "range": ["#000000", "#000000", "#ed1c24"]}, "legend": {"title": null, "orient": "none", "legendX": 58, "legendY": -5, "symbolType": "M-1.4,0H-0.6M0.6,0H1.4M-0.6,0A0.6,0.6,0,1,1,0.6,0A0.6,0.6,0,1,1,-0.6,0", "symbolSize": 92, "labelOffset": 11}}
          }}
        ]
      },
      {
        "width": 143, "height": 159,
        "title": {"text": "C"},
        "data": {"name": "C"},
        "encoding": {
          "x": {"field": "bin", "type": "ordinal", "sort": ["0-10", "10-30", "30-50", "50-70", "70-90", "90-110", "110-130", "130-150", "150-170", "170-190", "190-210"], "scale": {"type": "point", "padding": 0.586, "align": 0.867}, "axis": {"labelAngle": -45, "labelAlign": "right", "labelBaseline": "middle", "tickSize": 3, "labelPadding": 2, "title": "GC theca area, µm²", "titlePadding": 4}},
          "y": {"field": "pct", "type": "quantitative", "scale": {"domain": [0, 40]}, "axis": {"values": [0, 5, 10, 15, 20, 25, 30, 35, 40], "title": "% SI crypt GAPs", "titlePadding": 2.4}}
        },
        "layer": [
          {"mark": {"type": "rule", "strokeWidth": 1}, "encoding": {"y2": {"field": "upper"}, "color": {"field": "group", "type": "nominal", "scale": {"domain": ["CCh", "Vehicle", "CCh + EGTA"], "range": ["#000000", "#000000", "#ed1c24"]}, "legend": null}}},
          {"mark": {"type": "tick", "thickness": 1, "size": 5}, "encoding": {"y": {"field": "upper", "type": "quantitative"}, "color": {"field": "group", "type": "nominal", "legend": null}}},
          {"mark": {"type": "line", "strokeWidth": 1}, "encoding": {"color": {"field": "group", "type": "nominal", "legend": null}}},
          {"mark": {"type": "point", "filled": true, "size": 34, "strokeWidth": 1, "opacity": 1}, "encoding": {
            "fill": {"field": "group", "type": "nominal", "scale": {"domain": ["Vehicle", "CCh", "CCh + EGTA"], "range": ["#ffffff", "#000000", "#ed1c24"]}, "legend": null},
            "stroke": {"field": "group", "type": "nominal", "scale": {"domain": ["Vehicle", "CCh", "CCh + EGTA"], "range": ["#000000", "#000000", "#ed1c24"]}, "legend": null}
          }}
        ]
      },
      {
        "width": 149, "height": 159,
        "title": {"text": "D"},
        "data": {"name": "D"},
        "encoding": {
          "x": {"field": "bin", "type": "ordinal", "sort": ["0-10", "10-30", "30-50", "50-70", "70-90", "90-110", "110-130", "130-150", "150-170", "170-190", "190-210", "210-230", "230-250"], "scale": {"type": "point", "padding": 0.208, "align": 0.4}, "axis": {"labelAngle": -45, "labelAlign": "right", "labelBaseline": "middle", "tickSize": 3, "labelPadding": 2, "title": "GC theca area, µm²", "titlePadding": 4}},
          "y": {"field": "pct", "type": "quantitative", "scale": {"domain": [0, 40]}, "axis": {"values": [0, 5, 10, 15, 20, 25, 30, 35, 40], "title": "% DC crypt GAPs", "titlePadding": 0.4}}
        },
        "layer": [
          {"mark": {"type": "rule", "strokeWidth": 1}, "encoding": {"y2": {"field": "upper"}, "color": {"field": "group", "type": "nominal", "scale": {"domain": ["CCh", "Vehicle", "CCh + EGTA"], "range": ["#000000", "#000000", "#ed1c24"]}, "legend": null}}},
          {"mark": {"type": "tick", "thickness": 1, "size": 5}, "encoding": {"y": {"field": "upper", "type": "quantitative"}, "color": {"field": "group", "type": "nominal", "legend": null}}},
          {"mark": {"type": "line", "strokeWidth": 1}, "encoding": {"color": {"field": "group", "type": "nominal", "legend": null}}},
          {"mark": {"type": "point", "filled": true, "size": 34, "strokeWidth": 1, "opacity": 1}, "encoding": {
            "fill": {"field": "group", "type": "nominal", "scale": {"domain": ["Vehicle", "CCh", "CCh + EGTA"], "range": ["#ffffff", "#000000", "#ed1c24"]}, "legend": null},
            "stroke": {"field": "group", "type": "nominal", "scale": {"domain": ["Vehicle", "CCh", "CCh + EGTA"], "range": ["#000000", "#000000", "#ed1c24"]}, "legend": null}
          }}
        ]
      }
    ]
  },
  {
    "title": {"text": "Goblet cells not forming GAPs", "fontSize": 16.5, "anchor": "middle", "frame": "bounds", "offset": 2},
    "spacing": 8,
    "resolve": {"scale": {"fill": "independent", "stroke": "independent", "color": "independent"}, "legend": {"fill": "independent", "stroke": "independent", "color": "independent"}},
    "hconcat": [
      {
        "width": 133, "height": 159,
        "title": {"text": "E"},
        "layer": [
          {"data": {"name": "E_bars"}, "mark": {"type": "bar", "fill": "#d3d3d3", "stroke": "#000", "strokeWidth": 1},
           "encoding": {
             "x": {"field": "cond", "type": "nominal", "scale": {"domain": ["SI villus|Vehicle", "SI villus|CCh", "SI villus|CCh + EGTA", "gap1", "SI crypt|Vehicle", "SI crypt|CCh", "SI crypt|CCh + EGTA", "gap2", "DC crypt|Vehicle", "DC crypt|CCh", "DC crypt|CCh + EGTA"], "paddingInner": 0.14, "paddingOuter": 0.5},
                   "axis": {"labelExpr": "datum.value == 'SI villus|CCh' ? 'SI villus' : datum.value == 'SI crypt|CCh' ? 'SI crypt' : datum.value == 'DC crypt|CCh' ? 'DC crypt' : ''", "ticks": false, "labelFontSize": 11, "labelAngle": 0, "labelPadding": 4, "labelOverlap": false, "labelBound": false, "title": null}},
             "y": {"field": "mean", "type": "quantitative", "scale": {"domain": [0, 175]}, "axis": {"values": [0, 25, 50, 75, 100, 125, 150, 175], "title": "Average GC theca area, µm²", "titleFontSize": 11, "titlePadding": 1, "labelPadding": 0.5, "labelFontSize": 10.5}}
           }},
          {"data": {"name": "E_bars"}, "mark": {"type": "rule", "color": "#000", "strokeWidth": 1},
           "encoding": {"x": {"field": "cond", "type": "nominal"}, "y": {"field": "mean", "type": "quantitative"}, "y2": {"field": "hi"}}},
          {"data": {"name": "E_bars"}, "mark": {"type": "tick", "color": "#000", "thickness": 1, "size": 5},
           "encoding": {"x": {"field": "cond", "type": "nominal"}, "y": {"field": "hi", "type": "quantitative"}}},
          {"data": {"name": "E_dots"}, "mark": {"type": "point", "filled": true, "size": 42, "strokeWidth": 1, "opacity": 1},
           "encoding": {
             "x": {"field": "cond", "type": "nominal"},
             "xOffset": {"field": "mouse", "type": "nominal", "scale": {"paddingOuter": 0.1}},
             "y": {"field": "area", "type": "quantitative"},
             "fill": {"field": "trt", "type": "nominal", "scale": {"domain": ["Vehicle", "CCh", "CCh + EGTA"], "range": ["#ffffff", "#000000", "#ed1c24"]}, "legend": {"title": null, "orient": "none", "legendX": 57, "legendY": -6, "symbolType": "circle", "symbolSize": 30, "labelOffset": 3}},
             "stroke": {"field": "trt", "type": "nominal", "scale": {"domain": ["Vehicle", "CCh", "CCh + EGTA"], "range": ["#000000", "#000000", "#ed1c24"]}, "legend": {"title": null, "orient": "none", "legendX": 57, "legendY": -6, "symbolType": "circle", "symbolSize": 30, "labelOffset": 3}}
           }},
          {"data": {"name": "E_sig"}, "mark": {"type": "rule", "color": "#000", "strokeWidth": 1},
           "encoding": {"x": {"field": "from", "type": "nominal"}, "x2": {"field": "to"}, "y": {"field": "level", "type": "quantitative"}}},
          {"data": {"name": "E_sig"}, "transform": [{"filter": "indexof(datum.from,'Vehicle')>=0 && indexof(datum.to,'EGTA')>=0 && datum.label != 'n.s'"}],
           "mark": {"type": "text", "fontSize": 15, "dx": 11.2, "dy": 4.5, "baseline": "alphabetic", "align": "center"},
           "encoding": {"x": {"field": "from", "type": "nominal"}, "y": {"field": "level", "type": "quantitative"}, "text": {"field": "label"}}},
          {"data": {"name": "E_sig"}, "transform": [{"filter": "indexof(datum.from,'Vehicle')>=0 && indexof(datum.to,'EGTA')>=0 && datum.label == 'n.s'"}],
           "mark": {"type": "text", "fontSize": 10.5, "dx": 11.2, "dy": -1.5, "baseline": "alphabetic", "align": "center"},
           "encoding": {"x": {"field": "from", "type": "nominal"}, "y": {"field": "level", "type": "quantitative"}, "text": {"field": "label"}}},
          {"data": {"name": "E_sig"}, "transform": [{"filter": "!(indexof(datum.from,'Vehicle')>=0 && indexof(datum.to,'EGTA')>=0) && datum.label != 'n.s'"}],
           "mark": {"type": "text", "fontSize": 15, "dx": 5.6, "dy": 4.5, "baseline": "alphabetic", "align": "center"},
           "encoding": {"x": {"field": "from", "type": "nominal"}, "y": {"field": "level", "type": "quantitative"}, "text": {"field": "label"}}},
          {"data": {"name": "E_sig"}, "transform": [{"filter": "!(indexof(datum.from,'Vehicle')>=0 && indexof(datum.to,'EGTA')>=0) && datum.label == 'n.s'"}],
           "mark": {"type": "text", "fontSize": 9, "dx": 5.6, "dy": -1.5, "baseline": "alphabetic", "align": "center"},
           "encoding": {"x": {"field": "from", "type": "nominal"}, "y": {"field": "level", "type": "quantitative"}, "text": {"field": "label"}}}
        ]
      },
      {
        "width": 144, "height": 159,
        "title": {"text": "F"},
        "data": {"name": "F"},
        "encoding": {
          "x": {"field": "bin", "type": "ordinal", "sort": ["0-10", "10-30", "30-50", "50-70", "70-90", "90-110", "110-130", "130-150", "150-170", "170-190", "190-210", "210-230", "230-250"], "scale": {"type": "point", "padding": 0.353, "align": 0.625}, "axis": {"labelAngle": -45, "labelAlign": "right", "labelBaseline": "middle", "tickSize": 3, "labelPadding": 2, "title": "GC theca area, µm²", "titlePadding": 4}},
          "y": {"field": "pct", "type": "quantitative", "scale": {"domain": [0, 30]}, "axis": {"values": [0, 5, 10, 15, 20, 25, 30], "title": "% SI villus GCs not forming GAPs", "titleFontSize": 11, "titlePadding": 7.9}}
        },
        "layer": [
          {"mark": {"type": "rule", "strokeWidth": 1}, "encoding": {"y2": {"field": "upper"}, "color": {"field": "group", "type": "nominal", "scale": {"domain": ["CCh", "Vehicle", "CCh + EGTA"], "range": ["#000000", "#000000", "#ed1c24"]}, "legend": null}}},
          {"mark": {"type": "tick", "thickness": 1, "size": 5}, "encoding": {"y": {"field": "upper", "type": "quantitative"}, "color": {"field": "group", "type": "nominal", "legend": null}}},
          {"mark": {"type": "line", "strokeWidth": 1}, "encoding": {"color": {"field": "group", "type": "nominal", "legend": null}}},
          {"mark": {"type": "point", "filled": true, "size": 34, "strokeWidth": 1, "opacity": 1}, "encoding": {
            "fill": {"field": "group", "type": "nominal", "scale": {"domain": ["Vehicle", "CCh", "CCh + EGTA"], "range": ["#ffffff", "#000000", "#ed1c24"]}, "legend": {"title": null, "orient": "none", "legendX": 63, "legendY": -5, "symbolType": "M-1.4,0H-0.6M0.6,0H1.4M-0.6,0A0.6,0.6,0,1,1,0.6,0A0.6,0.6,0,1,1,-0.6,0", "symbolSize": 92, "labelOffset": 11}},
            "stroke": {"field": "group", "type": "nominal", "scale": {"domain": ["Vehicle", "CCh", "CCh + EGTA"], "range": ["#000000", "#000000", "#ed1c24"]}, "legend": {"title": null, "orient": "none", "legendX": 63, "legendY": -5, "symbolType": "M-1.4,0H-0.6M0.6,0H1.4M-0.6,0A0.6,0.6,0,1,1,0.6,0A0.6,0.6,0,1,1,-0.6,0", "symbolSize": 92, "labelOffset": 11}}
          }}
        ]
      },
      {
        "width": 143, "height": 159,
        "title": {"text": "G"},
        "data": {"name": "G"},
        "encoding": {
          "x": {"field": "bin", "type": "ordinal", "sort": ["0-10", "10-30", "30-50", "50-70", "70-90", "90-110", "110-130", "130-150", "150-170", "170-190", "190-210"], "scale": {"type": "point", "padding": 0.573, "align": 0.884}, "axis": {"labelAngle": -45, "labelAlign": "right", "labelBaseline": "middle", "tickSize": 3, "labelPadding": 2, "title": "GC theca area, µm²", "titlePadding": 4}},
          "y": {"field": "pct", "type": "quantitative", "scale": {"domain": [0, 40]}, "axis": {"values": [0, 5, 10, 15, 20, 25, 30, 35, 40], "title": "% SI crypt GCs not forming GAPs", "titleFontSize": 11, "titlePadding": 3.9}}
        },
        "layer": [
          {"mark": {"type": "rule", "strokeWidth": 1}, "encoding": {"y2": {"field": "upper"}, "color": {"field": "group", "type": "nominal", "scale": {"domain": ["CCh", "Vehicle", "CCh + EGTA"], "range": ["#000000", "#000000", "#ed1c24"]}, "legend": null}}},
          {"mark": {"type": "tick", "thickness": 1, "size": 5}, "encoding": {"y": {"field": "upper", "type": "quantitative"}, "color": {"field": "group", "type": "nominal", "legend": null}}},
          {"mark": {"type": "line", "strokeWidth": 1}, "encoding": {"color": {"field": "group", "type": "nominal", "legend": null}}},
          {"mark": {"type": "point", "filled": true, "size": 34, "strokeWidth": 1, "opacity": 1}, "encoding": {
            "fill": {"field": "group", "type": "nominal", "scale": {"domain": ["Vehicle", "CCh", "CCh + EGTA"], "range": ["#ffffff", "#000000", "#ed1c24"]}, "legend": null},
            "stroke": {"field": "group", "type": "nominal", "scale": {"domain": ["Vehicle", "CCh", "CCh + EGTA"], "range": ["#000000", "#000000", "#ed1c24"]}, "legend": null}
          }}
        ]
      },
      {
        "width": 149, "height": 159,
        "title": {"text": "H"},
        "data": {"name": "H"},
        "encoding": {
          "x": {"field": "bin", "type": "ordinal", "sort": ["0-10", "10-30", "30-50", "50-70", "70-90", "90-110", "110-130", "130-150", "150-170", "170-190", "190-210", "210-230", "230-250"], "scale": {"type": "point", "padding": 0.603, "align": 0.81}, "axis": {"labelAngle": -45, "labelAlign": "right", "labelBaseline": "middle", "tickSize": 3, "labelPadding": 2, "title": "GC theca area, µm²", "titlePadding": 4}},
          "y": {"field": "pct", "type": "quantitative", "scale": {"domain": [0, 25]}, "axis": {"values": [0, 5, 10, 15, 20, 25], "title": "% DC crypt GCs not forming GAPs", "titleFontSize": 11, "titlePadding": 1.9}}
        },
        "layer": [
          {"mark": {"type": "rule", "strokeWidth": 1}, "encoding": {"y2": {"field": "upper"}, "color": {"field": "group", "type": "nominal", "scale": {"domain": ["CCh", "Vehicle", "CCh + EGTA"], "range": ["#000000", "#000000", "#ed1c24"]}, "legend": null}}},
          {"mark": {"type": "tick", "thickness": 1, "size": 5}, "encoding": {"y": {"field": "upper", "type": "quantitative"}, "color": {"field": "group", "type": "nominal", "legend": null}}},
          {"mark": {"type": "line", "strokeWidth": 1}, "encoding": {"color": {"field": "group", "type": "nominal", "legend": null}}},
          {"mark": {"type": "point", "filled": true, "size": 34, "strokeWidth": 1, "opacity": 1}, "encoding": {
            "fill": {"field": "group", "type": "nominal", "scale": {"domain": ["Vehicle", "CCh", "CCh + EGTA"], "range": ["#ffffff", "#000000", "#ed1c24"]}, "legend": null},
            "stroke": {"field": "group", "type": "nominal", "scale": {"domain": ["Vehicle", "CCh", "CCh + EGTA"], "range": ["#000000", "#000000", "#ed1c24"]}, "legend": null}
          }}
        ]
      }
    ]
  }
]
}
